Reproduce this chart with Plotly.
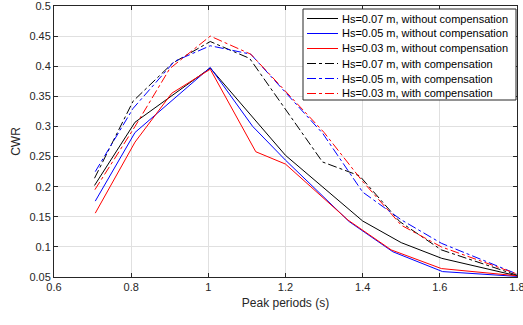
import plotly.graph_objects as go

# Hs=0.07 m, without compensation
x_k_wo = [0.705, 0.81, 1.005, 1.2, 1.4, 1.5, 1.605, 1.8]
y_k_wo = [0.202, 0.307, 0.397, 0.252, 0.143, 0.107, 0.081, 0.052]
# Hs=0.05 m, without compensation
x_b_wo = [0.707, 0.81, 1.005, 1.115, 1.2, 1.365, 1.478, 1.607, 1.8]
y_b_wo = [0.176, 0.290, 0.398, 0.300, 0.244, 0.142, 0.092, 0.059, 0.051]
# Hs=0.03 m, without compensation
x_r_wo = [0.707, 0.81, 0.905, 1.005, 1.123, 1.2, 1.362, 1.474, 1.604, 1.8]
y_r_wo = [0.156, 0.274, 0.355, 0.395, 0.258, 0.2375, 0.1445, 0.095, 0.064, 0.052]
# Hs=0.07 m, with compensation
x_k_w = [0.705, 0.805, 0.907, 1.005, 1.107, 1.296, 1.392, 1.496, 1.604, 1.8]
y_k_w = [0.214, 0.342, 0.405, 0.441, 0.413, 0.241, 0.218, 0.142, 0.095, 0.053]
# Hs=0.05 m, with compensation
x_b_w = [0.707, 0.805, 0.912, 1.005, 1.11, 1.297, 1.4, 1.5, 1.604, 1.8]
y_b_w = [0.225, 0.330, 0.408, 0.434, 0.420, 0.288, 0.191, 0.145, 0.106, 0.055]
# Hs=0.03 m, with compensation
x_r_w = [0.706, 0.81, 0.9, 1.005, 1.11, 1.3, 1.397, 1.5, 1.604, 1.8]
y_r_w = [0.195, 0.300, 0.396, 0.450, 0.420, 0.290, 0.211, 0.136, 0.100, 0.055]

names = [
    "Hs=0.07 m, without compensation",
    "Hs=0.05 m, without compensation",
    "Hs=0.03 m, without compensation",
    "Hs=0.07 m, with compensation",
    "Hs=0.05 m, with compensation",
    "Hs=0.03 m, with compensation",
]

x_ticks = [0.6, 0.8, 1.0, 1.2, 1.4, 1.6, 1.8]
x_tick_text = ["0.6", "0.8", "1", "1.2", "1.4", "1.6", "1.8"]
y_ticks = [0.05, 0.1, 0.15, 0.2, 0.25, 0.3, 0.35, 0.4, 0.45, 0.5]
y_tick_text = ["0.05", "0.1", "0.15", "0.2", "0.25", "0.3", "0.35", "0.4", "0.45", "0.5"]

series = [
    (x_k_wo, y_k_wo, "#000000", "solid"),
    (x_b_wo, y_b_wo, "#0000ff", "solid"),
    (x_r_wo, y_r_wo, "#ff0000", "solid"),
    (x_k_w, y_k_w, "#000000", "dashdot"),
    (x_b_w, y_b_w, "#0000ff", "dashdot"),
    (x_r_w, y_r_w, "#ff0000", "dashdot"),
]

W, H = 523, 325
ML, MR, MT, MB = 54, 6, 6, 48
PW, PH = W - ML - MR, H - MT - MB


def px_to_paper(px, py):
    return (px - ML) / PW, (H - MB - py) / PH


fig = go.Figure()
for (xs, ys, c, d), n in zip(series, names):
    fig.add_trace(go.Scatter(x=xs, y=ys, mode="lines", name=n, showlegend=False,
                             line=dict(color=c, width=1, dash=d)))

font_family = "Liberation Sans, Arial, sans-serif"
axis_common = dict(
    showline=True, linecolor="#262626", linewidth=1, mirror="ticks",
    ticks="inside", ticklen=4, tickcolor="#262626",
    showgrid=True, gridcolor="#e0e0e0", gridwidth=1, zeroline=False,
    ticklabeloverflow="allow", automargin=False,
    tickfont=dict(family=font_family, size=11, color="#262626"),
)

# custom legend (box, sample lines, labels)
shapes = []
annotations = []
bx0, by0 = px_to_paper(303, 9)
bx1, by1 = px_to_paper(516, 100)
shapes.append(dict(type="rect", xref="paper", yref="paper", x0=bx0, x1=bx1, y0=by1, y1=by0,
                   fillcolor="white", line=dict(color="#262626", width=1), layer="above"))
for i, ((_, _, c, d), n) in enumerate(zip(series, names)):
    yc = 18.5 + i * 15.0
    lx0, ly = px_to_paper(307, yc)
    lx1, _ = px_to_paper(338, yc)
    shapes.append(dict(type="line", xref="paper", yref="paper", x0=lx0, x1=lx1, y0=ly, y1=ly,
                       line=dict(color=c, width=1, dash=d), layer="above"))
    tx, ty = px_to_paper(340, yc)
    annotations.append(dict(xref="paper", yref="paper", x=tx, y=ty, text=n, showarrow=False,
                            xanchor="left", yanchor="middle",
                            font=dict(family=font_family, size=11, color="#000000")))

fig.update_layout(
    width=W, height=H,
    margin=dict(l=ML, r=MR, t=MT, b=MB),
    paper_bgcolor="white", plot_bgcolor="white",
    font=dict(family=font_family, size=11, color="#262626"),
    xaxis=dict(range=[0.6, 1.8], tickvals=x_ticks, ticktext=x_tick_text,
               title=dict(text="Peak periods (s)", font=dict(size=12, color="#262626"), standoff=6),
               **axis_common),
    yaxis=dict(range=[0.05, 0.5], tickvals=y_ticks, ticktext=y_tick_text,
               title=dict(text="CWR", font=dict(size=12, color="#262626"), standoff=6),
               **axis_common),
    shapes=shapes,
    annotations=annotations,
    showlegend=False,
)

fig.write_html("out.html", config={"displayModeBar": False},
               post_script="document.body.style.margin='0';document.body.style.padding='0';")
